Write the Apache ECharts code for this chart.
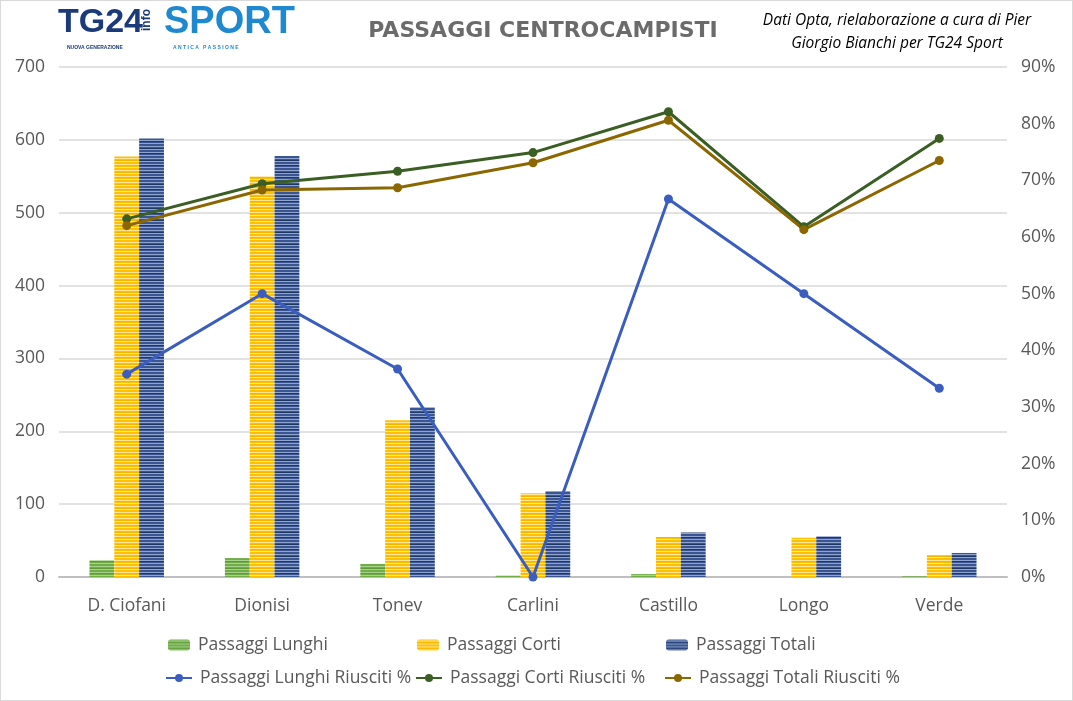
<!DOCTYPE html>
<html>
<head>
<meta charset="utf-8">
<script src="https://cdn.jsdelivr.net/npm/echarts@6/dist/echarts.min.js"></script>
<style>
html,body{margin:0;padding:0;background:#fff;}
#c{position:absolute;left:0;top:0;width:1071px;height:699px;border:1px solid #d9d9d9;}
</style>
</head>
<body>
<div id="c"></div>
<script>
const categories = ['D. Ciofani','Dionisi','Tonev','Carlini','Castillo','Longo','Verde'];
const passaggiLunghi = [23, 26, 18, 2, 4, 0, 1];
const passaggiCorti = [577, 550, 215, 115, 55, 54, 30];
const passaggiTotali = [602, 578, 233, 118, 61, 56, 33];
const lunghiRiusciti = [35.8, 50, 36.7, 0, 66.7, 50, 33.3];
const cortiRiusciti = [63.2, 69.4, 71.6, 74.9, 82.1, 61.8, 77.4];
const totaliRiusciti = [62.0, 68.3, 68.7, 73.1, 80.6, 61.3, 73.5];
const leftTicks = {min: 0, max: 700, interval: 100};
const rightTicks = {min: 0, max: 90, interval: 10};

function stripes(base, light, dark) {
  const cv = document.createElement('canvas');
  cv.width = 4; cv.height = 12;
  const g = cv.getContext('2d');
  const rows = [base, light, base, dark, light, base, base, light, dark, base, light, base];
  rows.forEach((c, i) => { g.fillStyle = c; g.fillRect(0, i, 4, 1); });
  return {image: cv, repeat: 'repeat'};
}
const greenPat = stripes('#70ad47', '#a9d18e', '#5e9a38');
const orangePat = stripes('#ffc000', '#ffe699', '#f5b400');
const bluePat = stripes('#3b5592', '#8fa3cf', '#203864');

const chart = echarts.init(document.getElementById('c'));
const txt = '#595959';
const font = 'Open Sans, Liberation Sans, sans-serif';
const fs = 17.5;

function legendAt(name, left, top, icon) {
  return {
    data: [name], left: left, top: top, itemWidth: icon ? 26 : 22, itemHeight: icon ? 10 : 11,
    itemGap: 2, textStyle: {color: txt, fontSize: fs, fontFamily: font, padding: [0,0,0,3]},
    selectedMode: false
  };
}

chart.setOption({
  animation: false,
  title: {
    text: 'PASSAGGI CENTROCAMPISTI', left: 537, top: 14, textAlign: 'center',
    textStyle: {color: '#6b6b6b', fontSize: 22, fontWeight: 'bold', fontFamily: 'DejaVu Sans, sans-serif'}
  },
  graphic: [
    {type: 'text', left: 57, top: 5, style: {text: 'TG24', fill: '#1b3a7a', font: 'bold 34px Liberation Sans, sans-serif'}},
    {type: 'text', left: 140, top: 8, rotation: Math.PI/2, style: {text: 'info', fill: '#1b3a7a', font: 'bold 12px Liberation Sans, sans-serif'}},
    {type: 'text', left: 163, top: 3, style: {text: 'SPORT', fill: '#1e88d0', font: 'bold 38px Liberation Sans, sans-serif'}},
    {type: 'text', left: 66, top: 44, style: {text: 'NUOVA GENERAZIONE', fill: '#1b3a7a', font: 'bold 5px Liberation Sans, sans-serif'}},
    {type: 'text', left: 172, top: 44, style: {text: 'A N T I C A   P A S S I O N E', fill: '#1e88d0', font: 'bold 5px Liberation Sans, sans-serif'}},
    {type: 'text', style: {x: 896, y: 8, text: 'Dati Opta, rielaborazione a cura di Pier\nGiorgio Bianchi per TG24 Sport', fill: '#000', font: 'italic 15.5px Open Sans, sans-serif', align: 'center', lineHeight: 23}}
  ],
  legend: [
    legendAt('Passaggi Lunghi', 162, 630, false),
    legendAt('Passaggi Corti', 411, 630, false),
    legendAt('Passaggi Totali', 660, 630, false),
    legendAt('Passaggi Lunghi Riusciti %', 159, 663, true),
    legendAt('Passaggi Corti Riusciti %', 409, 663, true),
    legendAt('Passaggi Totali Riusciti %', 658, 663, true)
  ],
  grid: {left: 58, right: 65, top: 66, bottom: 123},
  xAxis: {
    type: 'category', data: categories,
    axisLine: {lineStyle: {color: '#bfbfbf', width: 2}},
    axisTick: {show: false},
    axisLabel: {color: txt, fontSize: fs, fontFamily: font, margin: 20}
  },
  yAxis: [
    {type: 'value', min: leftTicks.min, max: leftTicks.max, interval: leftTicks.interval,
     axisLabel: {color: txt, fontSize: fs, fontFamily: font, margin: 14},
     splitLine: {lineStyle: {color: '#d9d9d9', width: 1.5}}},
    {type: 'value', min: rightTicks.min, max: rightTicks.max, interval: rightTicks.interval,
     axisLabel: {color: txt, fontSize: fs, fontFamily: font, formatter: '{value}%', margin: 14},
     splitLine: {show: false}}
  ],
  series: [
    {name: 'Passaggi Lunghi', type: 'bar', data: passaggiLunghi, barGap: '0%', barCategoryGap: '45%', itemStyle: {color: greenPat}},
    {name: 'Passaggi Corti', type: 'bar', data: passaggiCorti, itemStyle: {color: orangePat}},
    {name: 'Passaggi Totali', type: 'bar', data: passaggiTotali, itemStyle: {color: bluePat}},
    {name: 'Passaggi Lunghi Riusciti %', type: 'line', yAxisIndex: 1, data: lunghiRiusciti, symbol: 'circle', symbolSize: 9,
     lineStyle: {color: '#3a5dbf', width: 3}, itemStyle: {color: '#3a5dbf'}},
    {name: 'Passaggi Corti Riusciti %', type: 'line', yAxisIndex: 1, data: cortiRiusciti, symbol: 'circle', symbolSize: 9,
     lineStyle: {color: '#3a5e23', width: 3}, itemStyle: {color: '#3a5e23'}},
    {name: 'Passaggi Totali Riusciti %', type: 'line', yAxisIndex: 1, data: totaliRiusciti, symbol: 'circle', symbolSize: 9,
     lineStyle: {color: '#8c6700', width: 3}, itemStyle: {color: '#8c6700'}}
  ]
});
</script>
</body>
</html>
